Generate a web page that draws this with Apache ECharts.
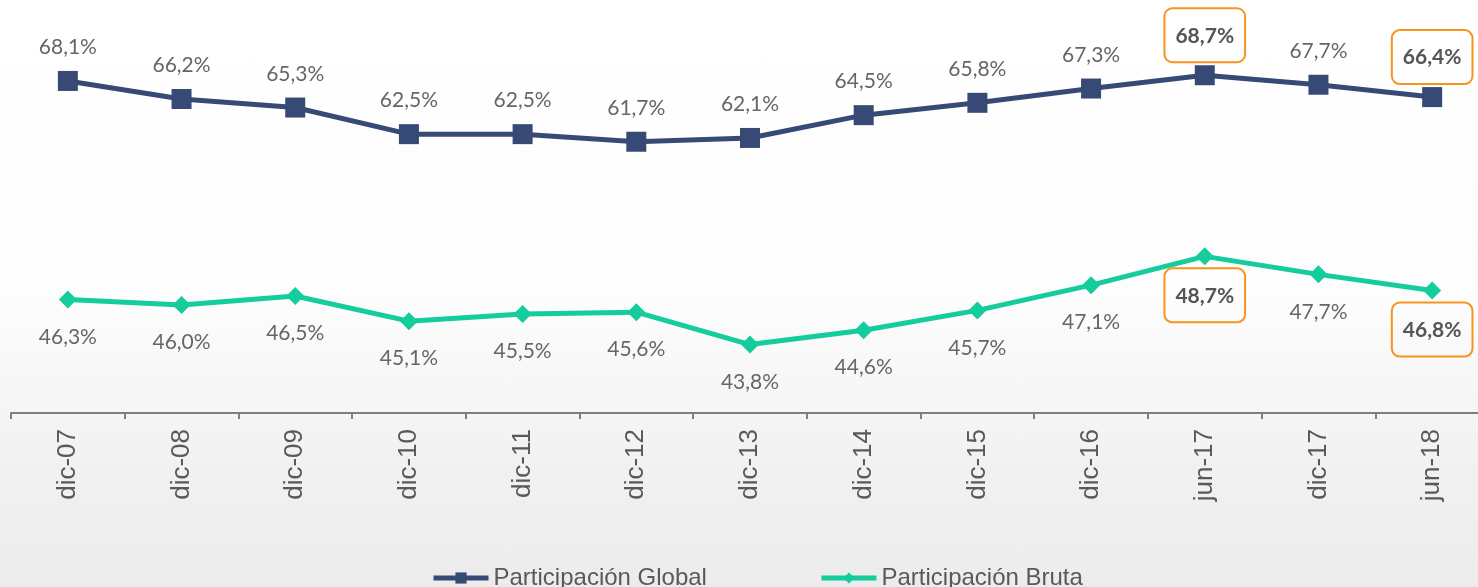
<!DOCTYPE html>
<html>
<head>
<meta charset="utf-8">
<script src="https://cdn.jsdelivr.net/npm/echarts@6/dist/echarts.min.js"></script>
<style>
  html, body { margin: 0; padding: 0; }
  body {
    width: 1478px; height: 587px; overflow: hidden;
    background: linear-gradient(to bottom, #ffffff 0%, #fdfdfd 50%, #f1f1f1 80%, #ececec 100%);
  }
  #main { width: 1478px; height: 587px; }
</style>
</head>
<body>
<div id="main"></div>
<script>
// 数据
var categories = ['dic-07', 'dic-08', 'dic-09', 'dic-10', 'dic-11', 'dic-12', 'dic-13',
                  'dic-14', 'dic-15', 'dic-16', 'jun-17', 'dic-17', 'jun-18'];
var globalValues = [68.1, 66.2, 65.3, 62.5, 62.5, 61.7, 62.1, 64.5, 65.8, 67.3, 68.7, 67.7, 66.4];
var brutaValues = [46.3, 46.0, 46.5, 45.1, 45.5, 45.6, 43.8, 44.6, 45.7, 47.1, 48.7, 47.7, 46.8];
var highlightIdx = [10, 12]; // jun-17, jun-18 带框

var chart = echarts.init(document.getElementById('main'));

function fmt(p) {
    return p.value.toFixed(1).replace('.', ',') + '%';
}

// 高亮的标签加橙色边框
var boxLabel = {
    fontWeight: 'bold',
    fontSize: 21,
    color: '#555555',
    borderColor: '#F7941D',
    borderWidth: 2,
    borderRadius: 8,
    padding: [17, 11, 16, 11],
    distance: 3
};

function buildData(values) {
    return values.map(function (v, i) {
        if (highlightIdx.indexOf(i) >= 0) {
            return { value: v, label: boxLabel };
        }
        return v;
    });
}

var option = {
    backgroundColor: 'transparent',
    textStyle: { fontFamily: 'Lato, "Liberation Sans", sans-serif' },
    legend: {
        bottom: -8,
        left: 426,
        itemGap: 112,
        itemWidth: 55,
        itemHeight: 14,
        lineStyle: { width: 5 },
        textStyle: { color: '#595959', fontSize: 24, fontFamily: '"Liberation Sans", sans-serif' },
        data: ['Participación Global', 'Participación Bruta']
    },
    grid: { left: 11, right: -11, top: 0, height: 413, outerBoundsMode: 'none', containLabel: false },
    xAxis: {
        type: 'category',
        data: categories,
        axisLine: { lineStyle: { color: '#7f7f7f', width: 2 } },
        axisTick: { show: true, length: 6, lineStyle: { color: '#7f7f7f', width: 2 } },
        axisLabel: {
            rotate: 90,
            margin: 16,
            color: '#595959',
            fontSize: 26,
            fontFamily: '"Liberation Sans", sans-serif'
        }
    },
    yAxis: [
        { type: 'value', min: 33.15, max: 76.62, show: false, splitLine: { show: false } },
        { type: 'value', min: 40, max: 62.94, show: false, splitLine: { show: false } }
    ],
    series: [
        {
            name: 'Participación Global',
            type: 'line',
            yAxisIndex: 0,
            data: buildData(globalValues),
            symbol: 'rect',
            symbolSize: 20,
            lineStyle: { color: '#374A75', width: 5 },
            itemStyle: { color: '#374A75' },
            label: {
                show: true,
                position: 'top',
                distance: 13,
                fontSize: 21,
                color: '#666666',
                formatter: fmt
            },
            z: 3
        },
        {
            name: 'Participación Bruta',
            type: 'line',
            yAxisIndex: 1,
            data: buildData(brutaValues),
            symbol: 'diamond',
            symbolSize: 18,
            lineStyle: { color: '#14CC9C', width: 5 },
            itemStyle: { color: '#14CC9C' },
            label: {
                show: true,
                position: 'bottom',
                distance: 18,
                fontSize: 21,
                color: '#666666',
                formatter: fmt
            },
            z: 2
        }
    ]
};

chart.setOption(option, true);
window.addEventListener('resize', function () {
    chart.resize();
});
</script>
</body>
</html>
